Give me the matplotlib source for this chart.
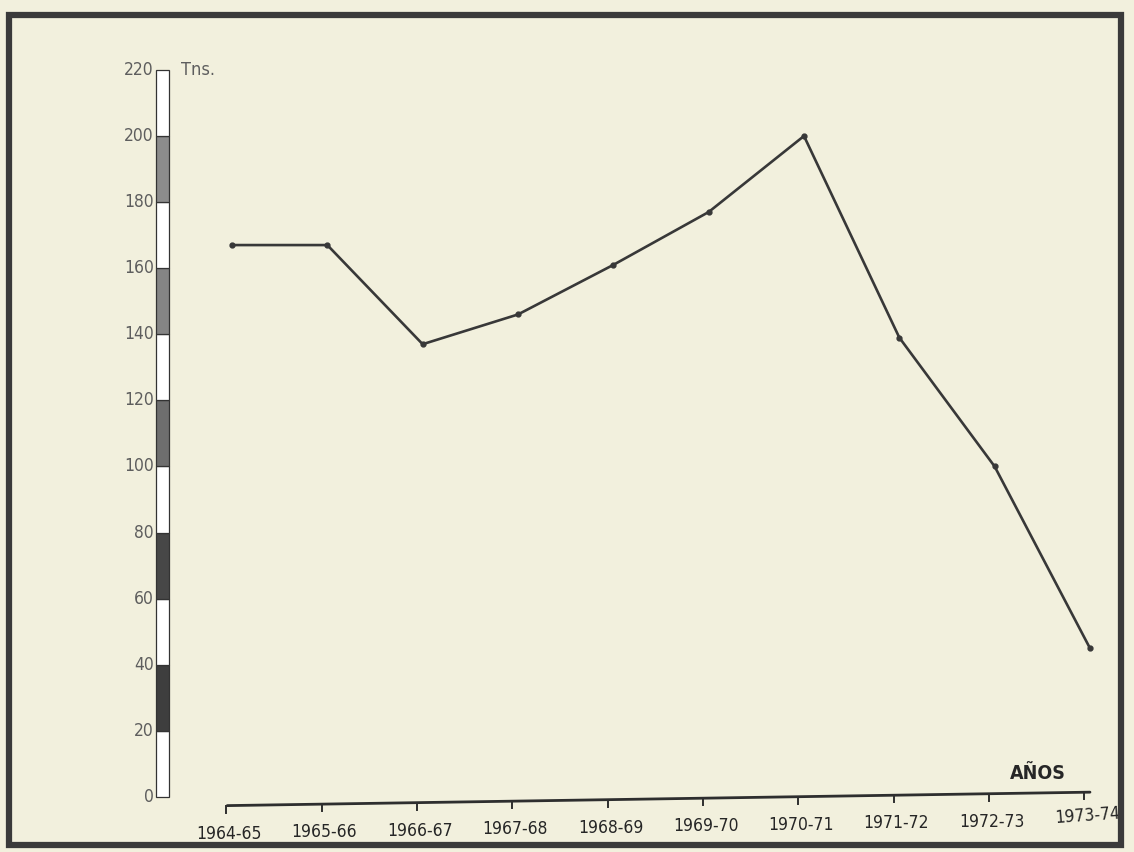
import matplotlib.pyplot as plt
from matplotlib.patches import Rectangle
import numpy as np

# data
campanas = ["1964-65", "1965-66", "1966-67", "1967-68", "1968-69",
            "1969-70", "1970-71", "1971-72", "1972-73", "1973-74"]
toneladas = [167, 167, 137, 146, 161, 177, 200, 139, 100, 45]
escala = [0, 20, 40, 60, 80, 100, 120, 140, 160, 180, 200, 220]
# fill of each 20-unit band of the scale bar, bottom to top
bandas = ["white", "#3e3e3e", "white", "#474747", "white", "#6e6e6e",
          "white", "#858585", "white", "#8c8c8c", "white"]

plt.rcParams['font.family'] = ['DejaVu Sans']
plt.rcParams['font.stretch'] = 'condensed'
paper = "#f2f0dd"

fig = plt.figure(figsize=(11.34, 8.52), dpi=100, facecolor=paper)
ax = fig.add_axes([140 / 1134, 22 / 852, 970 / 1134, 770 / 852])
ax.set_facecolor(paper)
ax.set_xlim(-0.965, 9.21)
ax.set_ylim(-10, 223)
ax.axis('off')

# scale bar on the left
bar_x = -0.73
ax.bar([bar_x] * len(bandas), [20] * len(bandas), bottom=escala[:-1],
       width=0.13, color=bandas, edgecolor="#333333", linewidth=0.9,
       zorder=2)
for v in escala:
    ax.text(bar_x - 0.09, v, str(v), ha='right', va='center',
            fontsize=12.5, color="#5e5e5e", fontstretch='condensed')
ax.text(bar_x + 0.2, escala[-1], "Tns.", ha='left', va='center',
        fontsize=13, color="#5e5e5e")

# time axis, slightly tilted like the photographed page
x = np.arange(len(campanas))
tilt = 0.45
axis_y = -2.6 + tilt * x
ax.plot([x[0] - 0.05, x[-1]], [axis_y[0] - 0.02, axis_y[-1]],
        color="#2e2e2e", lw=2.0, solid_capstyle='round')
for xi, yi, lab in zip(x, axis_y, campanas):
    ax.plot([xi - 0.06, xi - 0.06], [yi, yi - 2.2], color="#2e2e2e", lw=1.4)
    dy = 8.5 if xi < len(campanas) - 1 else 7
    ax.text(xi - 0.03, yi - dy, lab, ha='center', va='center',
            fontsize=12.5, color="#262626", fontstretch='condensed',
            rotation=4 if xi == len(campanas) - 1 else 0)
ax.text(x[-1] - 0.55, axis_y[-1] + 5.5, "AÑOS", ha='center', va='center',
        fontsize=14, fontweight='bold', color="#262626")

# production line
ax.plot(x, toneladas, color="#383838", lw=1.9, marker='o', markersize=3.5,
        zorder=3)

# dark frame of the photographed page
fig.patches.append(Rectangle((9 / 1134, 7 / 852), 1112 / 1134, 830 / 852,
                             transform=fig.transFigure, fill=False,
                             edgecolor="#3a3a3a", linewidth=4.5))

fig.savefig("out.png", dpi=100, facecolor=paper)
